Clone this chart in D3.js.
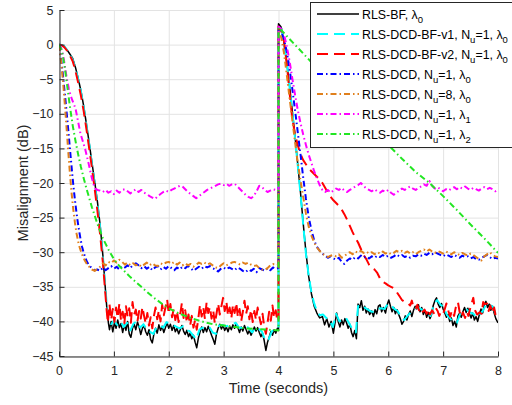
<!DOCTYPE html>
<html>
<head>
<meta charset="utf-8">
<script src="https://cdn.jsdelivr.net/npm/d3@7"></script>
<style>
  body { margin: 0; background: #fff; }
  svg { display: block; font-family: "Liberation Sans", Arial, Helvetica, sans-serif; }
</style>
</head>
<body>
<div id="chart"></div>
<script>
// axis ticks
const xTicks = [0, 1, 2, 3, 4, 5, 6, 7, 8];
const yTicks = [5, 0, -5, -10, -15, -20, -25, -30, -35, -40, -45];

// misalignment curves, [time (s), dB]
const rlsBF = [
  [0,0],[0.05,-0.05],[0.1,-0.3],[0.15,-0.8],[0.2,-1.4],[0.25,-2.0],[0.3,-3.3],[0.35,-4.9],[0.4,-6.7],[0.45,-8.9],
  [0.5,-11.5],[0.55,-14.2],[0.6,-17],[0.65,-19.8],[0.7,-22.7],[0.75,-26.1],[0.8,-30.5],[0.84,-34.8],[0.87,-37.9],[0.9,-40.2],
  [0.92,-41.2],[0.95,-40.0],[0.98,-41.5],[1.01,-40.2],[1.04,-41.0],[1.07,-39.8],[1.10,-40.9],[1.13,-40.3],[1.16,-41.6],[1.19,-40.5],
  [1.22,-41.3],[1.25,-40.0],[1.28,-41.8],[1.31,-42.3],[1.34,-41.0],[1.37,-40.4],[1.40,-41.2],[1.43,-40.1],[1.46,-40.8],[1.49,-41.9],
  [1.52,-41.0],[1.55,-40.6],[1.58,-41.5],[1.61,-42.0],[1.64,-41.2],[1.67,-42.6],[1.70,-43.1],[1.73,-41.8],[1.76,-41.0],[1.79,-41.7],
  [1.82,-40.5],[1.85,-41.3],[1.88,-40.7],[1.91,-41.6],[1.94,-40.9],[1.97,-40.2],[2.00,-41.0],[2.03,-40.4],[2.06,-41.3],[2.09,-40.6],
  [2.12,-41.5],[2.15,-41.0],[2.18,-41.8],[2.21,-41.2],[2.24,-40.6],[2.27,-41.4],[2.30,-41.9],[2.33,-41.3],[2.36,-42.2],[2.39,-41.7],
  [2.42,-42.5],[2.45,-42.0],[2.48,-43.0],[2.51,-43.8],[2.54,-42.4],[2.57,-41.5],[2.60,-40.8],[2.63,-41.6],[2.66,-40.9],[2.69,-41.5],
  [2.72,-40.7],[2.75,-41.3],[2.78,-42.0],[2.81,-42.6],[2.84,-43.3],[2.87,-41.8],[2.90,-41.0],[2.93,-40.4],[2.96,-41.1],[2.99,-40.6],
  [3.02,-41.3],[3.05,-40.8],[3.08,-41.5],[3.11,-40.7],[3.14,-41.2],[3.17,-40.5],[3.20,-41.0],[3.23,-40.3],[3.26,-40.9],[3.29,-41.6],
  [3.32,-40.8],[3.35,-41.4],[3.38,-40.6],[3.41,-41.2],[3.44,-41.8],[3.47,-41.3],[3.50,-42.0],[3.53,-41.5],[3.56,-40.8],[3.59,-41.4],
  [3.62,-40.9],[3.65,-41.6],[3.68,-42.2],[3.71,-41.7],[3.74,-42.8],[3.77,-44.2],[3.80,-43.0],[3.83,-42.3],[3.86,-41.5],[3.89,-42.0],
  [3.92,-41.2],[3.95,-41.7],[3.98,-41.0],[4.0,-41.3],
  [4.0,3.0],[4.05,2.5],[4.1,0.3],[4.15,-2.5],[4.2,-5.8],[4.25,-9.5],[4.3,-13.2],[4.35,-17.2],[4.4,-21.3],[4.45,-25.8],
  [4.5,-30],[4.55,-33.5],[4.6,-36],[4.65,-37.8],[4.7,-38.8],[4.75,-39.5],
  [4.8,-39.3],[4.84,-40.5],[4.88,-39.6],[4.92,-40.8],[4.96,-40.0],[5.0,-41.7],[5.03,-40.2],[5.06,-38.8],[5.09,-40.1],[5.12,-40.8],
  [5.15,-39.8],[5.18,-40.5],[5.21,-39.6],[5.24,-40.2],[5.27,-41.0],[5.30,-40.4],[5.33,-41.6],[5.36,-42.2],[5.39,-41.3],[5.42,-42.5],
  [5.45,-37.5],[5.48,-38.0],[5.51,-37.0],[5.54,-38.4],[5.57,-37.8],[5.60,-38.8],[5.63,-38.2],[5.66,-39.0],[5.70,-38.5],[5.73,-39.3],
  [5.76,-38.3],[5.79,-38.9],[5.82,-37.8],[5.85,-37.6],[5.88,-38.6],[5.91,-38.0],[5.95,-38.8],[5.98,-37.6],[6.01,-36.9],[6.04,-37.8],
  [6.07,-38.6],[6.10,-38.0],[6.13,-38.9],[6.16,-38.3],[6.19,-39.0],[6.22,-39.6],[6.25,-40.4],[6.28,-40.0],[6.31,-39.2],[6.34,-39.8],
  [6.37,-39.0],[6.40,-38.5],[6.43,-39.3],[6.46,-38.4],[6.49,-37.8],[6.52,-38.2],[6.55,-37.6],[6.58,-38.6],[6.61,-38.0],[6.64,-39.0],
  [6.67,-38.4],[6.70,-39.4],[6.73,-38.7],[6.76,-39.6],[6.79,-39.0],[6.82,-37.7],[6.85,-37.0],[6.88,-36.6],[6.91,-37.5],[6.94,-38.0],
  [6.97,-37.4],[7.00,-38.2],[7.03,-38.8],[7.06,-39.4],[7.09,-39.0],[7.12,-40.0],[7.15,-39.5],[7.18,-40.6],[7.21,-40.0],[7.24,-40.8],
  [7.27,-39.2],[7.30,-38.8],[7.33,-39.4],[7.36,-38.6],[7.39,-38.0],[7.42,-38.7],[7.45,-38.1],[7.48,-38.9],[7.51,-39.5],[7.54,-38.8],
  [7.57,-39.8],[7.60,-39.3],[7.63,-40.0],[7.66,-39.0],[7.69,-38.2],[7.72,-38.8],[7.75,-37.6],[7.78,-37.1],[7.81,-38.0],[7.84,-37.5],
  [7.87,-38.4],[7.90,-37.8],[7.93,-38.8],[7.96,-39.6],[8.0,-40.2]
];

const dcdBFv1 = [
  [0,0],[0.05,-0.05],[0.1,-0.3],[0.15,-0.8],[0.2,-1.5],[0.25,-2.2],[0.3,-3.4],[0.35,-5.0],[0.4,-6.8],[0.45,-9.0],
  [0.5,-11.6],[0.55,-14.3],[0.6,-17.2],[0.65,-20.0],[0.7,-23.0],[0.75,-26.4],[0.8,-30.6],[0.84,-34.6],[0.87,-37.5],[0.9,-39.6],
  [0.95,-40.4],[1.0,-39.9],[1.06,-40.5],[1.12,-40.0],[1.18,-40.8],[1.24,-40.2],[1.30,-41.3],[1.36,-40.3],[1.42,-40.0],[1.48,-40.9],
  [1.54,-40.4],[1.60,-41.2],[1.66,-41.5],[1.72,-41.8],[1.78,-40.8],[1.84,-40.6],[1.90,-40.9],[1.96,-40.1],[2.02,-40.3],[2.08,-40.5],
  [2.14,-40.8],[2.20,-41.0],[2.26,-40.7],[2.32,-41.3],[2.38,-41.4],[2.44,-42.0],[2.50,-42.6],[2.56,-41.2],[2.62,-40.9],[2.68,-40.9],
  [2.74,-40.8],[2.80,-41.6],[2.86,-41.8],[2.92,-40.6],[2.98,-40.5],[3.04,-40.7],[3.10,-40.6],[3.16,-40.4],[3.22,-40.2],[3.28,-40.9],
  [3.34,-40.9],[3.40,-40.6],[3.46,-41.0],[3.52,-41.6],[3.58,-40.9],[3.64,-41.1],[3.70,-41.5],[3.76,-42.8],[3.82,-42.6],[3.88,-41.4],
  [3.94,-41.2],[4.0,-40.9],
  [4.0,2.8],[4.05,2.3],[4.1,0.2],[4.15,-2.6],[4.2,-6.0],[4.25,-9.6],[4.3,-13.4],[4.35,-17.4],[4.4,-21.5],[4.45,-26],
  [4.5,-30.2],[4.55,-33.4],[4.6,-35.8],[4.65,-37.4],[4.7,-38.5],[4.75,-39.1],
  [4.81,-39.0],[4.87,-39.5],[4.93,-39.8],[4.99,-40.8],[5.05,-38.9],[5.11,-40.0],[5.17,-39.7],[5.23,-39.5],[5.29,-40.3],[5.35,-41.2],
  [5.41,-41.6],[5.45,-37.8],[5.51,-37.6],[5.57,-38.0],[5.63,-38.3],[5.69,-38.6],[5.75,-38.6],[5.81,-38.2],[5.87,-38.1],[5.93,-38.2],
  [5.99,-37.5],[6.05,-37.6],[6.11,-38.2],[6.17,-38.5],[6.23,-39.3],[6.29,-39.8],[6.35,-39.2],[6.41,-38.7],[6.47,-38.3],[6.53,-37.9],
  [6.59,-38.2],[6.65,-38.5],[6.71,-38.9],[6.77,-39.2],[6.83,-37.6],[6.89,-36.9],[6.95,-37.6],[7.01,-37.9],[7.07,-39.1],[7.13,-39.6],
  [7.19,-40.1],[7.25,-40.2],[7.31,-38.9],[7.37,-38.6],[7.43,-38.3],[7.49,-38.7],[7.55,-38.9],[7.61,-39.4],[7.67,-39.0],[7.73,-38.4],
  [7.79,-37.4],[7.85,-37.6],[7.91,-37.9],[7.97,-39.2],[8.0,-39.6]
];

const dcdBFv2 = [
  [0,0],[0.05,-0.1],[0.1,-0.4],[0.15,-0.9],[0.2,-1.6],[0.25,-2.4],[0.3,-3.8],[0.35,-5.5],[0.4,-7.4],[0.45,-9.6],
  [0.5,-12.2],[0.55,-15],[0.6,-17.8],[0.65,-20.8],[0.7,-24],[0.75,-27.5],[0.8,-31.5],[0.84,-35.5],[0.87,-38.5],[0.89,-40.2],
  [0.92,-37.5],[0.95,-39.8],[0.98,-38.2],[1.01,-40.1],[1.04,-38.0],[1.07,-39.5],[1.10,-37.4],[1.13,-39.9],[1.16,-38.6],[1.19,-40.4],
  [1.22,-37.8],[1.25,-39.3],[1.28,-38.1],[1.31,-40.2],[1.34,-37.2],[1.37,-39.0],[1.40,-38.3],[1.43,-40.0],[1.46,-38.5],[1.49,-39.6],
  [1.52,-37.9],[1.55,-39.2],[1.58,-40.3],[1.61,-38.8],[1.64,-40.6],[1.67,-39.4],[1.70,-41.0],[1.73,-39.2],[1.76,-38.0],[1.79,-39.7],
  [1.82,-38.4],[1.85,-40.0],[1.88,-37.6],[1.91,-39.1],[1.94,-38.0],[1.97,-36.8],[2.00,-38.9],[2.03,-37.5],[2.06,-39.4],[2.09,-38.2],
  [2.12,-39.8],[2.15,-38.5],[2.18,-40.1],[2.21,-38.9],[2.24,-37.3],[2.27,-39.5],[2.30,-38.4],[2.33,-40.2],[2.36,-39.0],[2.39,-40.6],
  [2.42,-39.2],[2.45,-40.9],[2.48,-39.8],[2.51,-41.2],[2.54,-39.5],[2.57,-37.6],[2.60,-39.3],[2.63,-38.0],[2.66,-39.7],[2.69,-37.2],
  [2.72,-38.8],[2.75,-37.9],[2.78,-39.6],[2.81,-38.4],[2.84,-40.3],[2.87,-38.9],[2.90,-37.4],[2.93,-39.0],[2.96,-37.8],[2.99,-36.6],
  [3.02,-38.5],[3.05,-37.1],[3.08,-39.2],[3.11,-38.0],[3.14,-39.6],[3.17,-37.6],[3.20,-38.8],[3.23,-37.3],[3.26,-39.4],[3.29,-38.2],
  [3.32,-40.0],[3.35,-38.6],[3.38,-37.0],[3.41,-38.9],[3.44,-37.8],[3.47,-39.7],[3.50,-38.3],[3.53,-40.1],[3.56,-38.5],[3.59,-39.8],
  [3.62,-38.0],[3.65,-39.3],[3.68,-40.4],[3.71,-38.9],[3.74,-40.8],[3.77,-41.8],[3.80,-40.2],[3.83,-38.6],[3.86,-39.9],[3.89,-37.7],
  [3.92,-39.5],[3.95,-38.4],[3.98,-40.0],[4.0,-39.6],
  [4.0,2.6],[4.05,2.0],[4.1,0.5],[4.15,-2.7],[4.2,-6.8],[4.25,-10.6],[4.3,-12.9],[4.35,-14.5],[4.4,-15.8],[4.45,-16.7],
  [4.5,-17.3],[4.55,-17.9],[4.6,-18.3],[4.65,-18.7],[4.7,-19.1],[4.75,-19.5],[4.8,-20.0],[4.85,-20.7],[4.9,-21.4],[4.95,-22.0],
  [5.0,-22.5],[5.05,-22.9],[5.1,-23.3],[5.15,-23.8],[5.2,-24.5],[5.25,-25.3],[5.3,-26.2],[5.35,-27.1],[5.4,-27.9],[5.45,-28.6],
  [5.5,-29.5],[5.55,-30.4],[5.6,-31.0],[5.65,-31.8],[5.7,-32.3],[5.75,-32.5],[5.8,-33.0],[5.85,-33.8],[5.9,-34.3],[5.95,-34.5],
  [6.0,-34.8],[6.05,-35.0],[6.1,-35.2],[6.15,-35.7],[6.2,-36.3],[6.25,-36.9],[6.3,-37.2],[6.35,-37.3],[6.4,-37.7],[6.43,-37.0],
  [6.46,-38.0],[6.5,-38.2],[6.53,-37.6],[6.56,-38.4],[6.6,-38.0],[6.63,-38.6],[6.66,-38.3],[6.7,-38.9],[6.73,-38.2],[6.76,-39.0],
  [6.8,-38.4],[6.83,-38.8],[6.86,-38.0],[6.9,-38.5],[6.93,-39.2],[6.96,-38.6],[7.0,-38.9],[7.03,-38.2],[7.06,-37.4],[7.1,-38.6],
  [7.13,-39.3],[7.16,-38.4],[7.2,-39.2],[7.23,-38.0],[7.27,-37.2],[7.3,-38.6],[7.33,-39.4],[7.36,-38.7],[7.4,-39.5],[7.43,-38.6],
  [7.46,-39.2],[7.5,-37.9],[7.55,-36.6],[7.58,-38.4],[7.62,-39.0],[7.66,-38.7],[7.7,-38.9],[7.73,-37.2],[7.76,-37.5],[7.8,-37.4],
  [7.83,-38.5],[7.86,-37.7],[7.9,-38.8],[7.93,-38.0],[7.96,-39.3],[8.0,-39.7]
];

const dcdNu1 = [
  [0,0],[0.03,-1.5],[0.06,-3.5],[0.09,-5.8],[0.12,-8.2],[0.15,-10.7],[0.18,-13.3],[0.21,-16.0],[0.24,-18.6],[0.27,-21.0],
  [0.3,-23.1],[0.33,-25.0],[0.36,-26.6],[0.39,-28.0],[0.42,-29.2],[0.45,-30.1],[0.48,-30.8],[0.51,-31.4],[0.55,-31.9],[0.6,-32.3],
  [0.65,-32.6],[0.7,-32.5],[0.75,-32.7],[0.8,-32.2],[0.85,-32.6],[0.9,-32.3],[0.95,-32.0],[1.0,-32.4],[1.05,-32.1],[1.1,-32.5],
  [1.15,-32.0],[1.2,-32.2],[1.25,-31.9],[1.3,-32.3],[1.35,-31.8],[1.4,-31.6],[1.45,-31.9],[1.5,-32.3],[1.55,-32.0],[1.6,-32.4],
  [1.65,-32.1],[1.7,-32.6],[1.75,-32.2],[1.8,-32.0],[1.85,-32.5],[1.9,-32.1],[1.95,-32.4],[2.0,-32.0],[2.05,-32.3],[2.1,-32.6],
  [2.15,-32.2],[2.2,-32.5],[2.25,-32.1],[2.3,-32.3],[2.35,-32.0],[2.4,-32.3],[2.45,-32.7],[2.5,-32.4],[2.55,-32.1],[2.6,-32.4],
  [2.65,-32.0],[2.7,-32.2],[2.75,-32.0],[2.8,-32.3],[2.85,-32.5],[2.9,-32.8],[2.95,-32.4],[3.0,-32.2],[3.05,-32.5],[3.1,-32.2],
  [3.15,-32.4],[3.2,-32.6],[3.25,-32.2],[3.3,-32.4],[3.35,-32.7],[3.4,-32.9],[3.45,-32.5],[3.5,-32.7],[3.55,-32.4],[3.6,-32.9],
  [3.65,-32.3],[3.7,-32.5],[3.75,-32.7],[3.8,-32.3],[3.85,-32.6],[3.9,-32.2],[3.95,-32.4],[4.0,-32.3],
  [4.0,2.3],[4.05,1.8],[4.1,0.8],[4.15,-1.0],[4.2,-3.4],[4.25,-6.3],[4.3,-9.4],[4.35,-12.6],[4.4,-15.8],[4.45,-19.2],
  [4.5,-22.3],[4.55,-24.9],[4.6,-26.8],[4.65,-28.3],[4.7,-29.2],[4.75,-29.8],[4.8,-30.2],[4.85,-30.5],[4.9,-30.8],[4.95,-30.6],
  [5.0,-30.9],[5.05,-31.1],[5.1,-30.8],[5.15,-31.4],[5.2,-31.7],[5.25,-31.2],[5.3,-30.9],[5.35,-31.1],[5.4,-30.7],[5.45,-30.9],
  [5.5,-30.5],[5.55,-30.8],[5.6,-30.6],[5.65,-30.9],[5.7,-30.6],[5.75,-30.8],[5.8,-30.5],[5.85,-30.7],[5.9,-30.4],[5.95,-30.7],
  [6.0,-30.5],[6.05,-30.8],[6.1,-30.6],[6.15,-30.3],[6.2,-30.6],[6.25,-30.4],[6.3,-30.7],[6.35,-30.5],[6.4,-30.8],[6.45,-30.5],
  [6.5,-30.6],[6.55,-30.3],[6.6,-30.5],[6.65,-30.2],[6.7,-30.4],[6.75,-30.1],[6.8,-30.3],[6.85,-30.0],[6.9,-30.2],[6.95,-30.4],
  [7.0,-30.6],[7.05,-30.3],[7.1,-30.5],[7.15,-30.7],[7.2,-30.4],[7.25,-30.6],[7.3,-30.8],[7.35,-30.5],[7.4,-30.7],[7.45,-30.6],
  [7.5,-30.9],[7.55,-30.7],[7.6,-31.0],[7.65,-31.1],[7.7,-30.8],[7.75,-30.6],[7.8,-30.4],[7.85,-30.7],[7.9,-31.0],[7.95,-30.8],
  [8.0,-30.9]
];

const dcdNu8 = [
  [0,0],[0.02,-1.3],[0.05,-3.3],[0.08,-6.0],[0.11,-9.0],[0.14,-12.3],[0.17,-15.6],[0.2,-18.7],[0.23,-21.5],[0.26,-23.8],
  [0.29,-25.7],[0.32,-27.3],[0.35,-28.5],[0.38,-29.4],[0.41,-30.1],[0.44,-30.7],[0.47,-31.2],[0.5,-31.6],[0.55,-32.1],[0.6,-32.5],
  [0.65,-32.7],[0.7,-32.4],[0.75,-32.1],[0.8,-31.6],[0.85,-31.9],[0.9,-31.4],[0.95,-31.6],[1.0,-31.2],[1.05,-31.5],[1.1,-31.1],
  [1.15,-31.4],[1.2,-31.8],[1.25,-31.5],[1.3,-31.9],[1.35,-31.6],[1.4,-31.9],[1.45,-31.7],[1.5,-32.1],[1.55,-31.8],[1.6,-31.5],
  [1.65,-31.9],[1.7,-31.6],[1.75,-31.9],[1.8,-32.0],[1.85,-31.6],[1.9,-31.8],[1.95,-31.5],[2.0,-31.4],[2.05,-31.7],[2.1,-31.4],
  [2.15,-31.8],[2.2,-31.5],[2.25,-31.9],[2.3,-31.6],[2.35,-31.9],[2.4,-31.7],[2.45,-32.1],[2.5,-31.8],[2.55,-31.5],[2.6,-31.7],
  [2.65,-31.5],[2.7,-31.8],[2.75,-31.6],[2.8,-31.9],[2.85,-32.2],[2.9,-32.3],[2.95,-31.9],[3.0,-31.6],[3.05,-31.9],[3.1,-31.7],
  [3.15,-31.5],[3.2,-31.4],[3.25,-31.6],[3.3,-31.8],[3.35,-31.5],[3.4,-31.7],[3.45,-31.5],[3.5,-31.8],[3.55,-32.0],[3.6,-31.9],
  [3.65,-32.3],[3.7,-32.5],[3.75,-32.6],[3.8,-32.3],[3.85,-31.9],[3.9,-31.7],[3.95,-31.9],[4.0,-31.8],
  [4.0,2.2],[4.05,1.0],[4.1,-1.2],[4.15,-4.3],[4.2,-7.6],[4.25,-10.8],[4.3,-14.0],[4.35,-17.0],[4.4,-19.6],[4.45,-22.0],
  [4.5,-24.4],[4.55,-26.3],[4.6,-27.6],[4.65,-28.6],[4.7,-29.3],[4.75,-29.8],[4.8,-30.2],[4.85,-30.5],[4.9,-30.7],[4.95,-30.5],
  [5.0,-30.4],[5.05,-30.6],[5.1,-30.3],[5.15,-30.8],[5.2,-30.6],[5.25,-30.2],[5.3,-30.0],[5.35,-30.3],[5.4,-29.9],[5.45,-30.1],
  [5.5,-29.8],[5.55,-30.1],[5.6,-29.9],[5.65,-30.2],[5.7,-30.0],[5.75,-30.3],[5.8,-30.0],[5.85,-30.2],[5.9,-29.9],[5.95,-30.2],
  [6.0,-30.0],[6.05,-30.3],[6.1,-30.1],[6.15,-29.8],[6.2,-30.0],[6.25,-29.8],[6.3,-30.1],[6.35,-29.9],[6.4,-30.2],[6.45,-30.0],
  [6.5,-30.3],[6.55,-30.0],[6.6,-29.8],[6.65,-29.6],[6.7,-29.9],[6.75,-29.6],[6.8,-29.9],[6.85,-30.1],[6.9,-29.8],[6.95,-30.0],
  [7.0,-30.2],[7.05,-29.9],[7.1,-30.1],[7.15,-30.3],[7.2,-30.0],[7.25,-30.2],[7.3,-30.4],[7.35,-30.1],[7.4,-30.3],[7.45,-30.5],
  [7.5,-30.2],[7.55,-30.4],[7.6,-30.7],[7.65,-31.0],[7.7,-31.2],[7.75,-30.6],[7.8,-30.3],[7.85,-30.0],[7.9,-30.4],[7.95,-30.6],
  [8.0,-30.7]
];

const dcdLam1 = [
  [0,0],[0.03,-0.3],[0.06,-1.0],[0.09,-2.2],[0.12,-3.8],[0.15,-5.2],[0.18,-6.4],[0.21,-7.3],[0.24,-8.0],[0.27,-8.6],
  [0.3,-9.2],[0.33,-10.4],[0.36,-11.6],[0.39,-12.8],[0.42,-13.6],[0.45,-14.4],[0.48,-15.2],[0.51,-16.2],[0.54,-17.2],[0.57,-18.3],
  [0.6,-19.3],[0.63,-20.2],[0.66,-20.8],[0.7,-21.0],[0.75,-21.1],[0.8,-21.3],[0.85,-21.0],[0.9,-21.4],[0.95,-21.2],[1.0,-21.6],
  [1.05,-21.1],[1.1,-21.4],[1.15,-21.0],[1.2,-20.9],[1.25,-21.2],[1.3,-21.5],[1.35,-21.2],[1.4,-20.9],[1.45,-21.3],[1.5,-21.0],
  [1.55,-21.4],[1.6,-21.6],[1.65,-21.9],[1.7,-22.1],[1.75,-22.3],[1.8,-21.9],[1.85,-21.6],[1.9,-21.3],[1.95,-21.1],[2.0,-21.3],
  [2.05,-21.0],[2.1,-20.8],[2.15,-20.6],[2.2,-20.4],[2.25,-20.5],[2.3,-20.9],[2.35,-21.3],[2.4,-21.6],[2.45,-21.9],[2.5,-22.2],
  [2.55,-21.9],[2.6,-21.6],[2.65,-21.3],[2.7,-21.0],[2.75,-20.8],[2.8,-20.6],[2.85,-20.4],[2.9,-20.2],[2.95,-20.1],[3.0,-20.3],
  [3.05,-20.1],[3.1,-20.4],[3.15,-20.2],[3.2,-20.1],[3.25,-20.5],[3.3,-20.9],[3.35,-21.3],[3.4,-21.7],[3.45,-22.0],[3.5,-22.2],
  [3.55,-21.9],[3.6,-21.2],[3.65,-20.4],[3.7,-20.6],[3.75,-21.0],[3.8,-21.3],[3.85,-21.1],[3.9,-20.9],[3.95,-21.0],[4.0,-21.0],
  [4.0,2.6],[4.05,2.3],[4.1,1.5],[4.15,-0.2],[4.2,-2.3],[4.25,-4.8],[4.3,-7.2],[4.35,-9.4],[4.4,-11.3],[4.45,-13.0],
  [4.5,-14.5],[4.55,-15.9],[4.6,-17.1],[4.65,-18.3],[4.7,-19.3],[4.75,-20.3],[4.8,-21.0],[4.85,-21.3],[4.9,-21.0],[4.95,-21.4],
  [5.0,-21.1],[5.05,-20.8],[5.1,-21.0],[5.15,-20.7],[5.2,-21.1],[5.25,-21.3],[5.3,-21.0],[5.35,-20.8],[5.4,-20.5],[5.45,-20.3],
  [5.5,-20.0],[5.55,-20.4],[5.6,-20.8],[5.65,-21.0],[5.7,-21.2],[5.75,-20.9],[5.8,-21.2],[5.85,-21.4],[5.9,-21.1],[5.95,-21.3],
  [6.0,-21.0],[6.05,-21.4],[6.1,-21.7],[6.15,-21.4],[6.2,-21.1],[6.25,-20.8],[6.3,-21.0],[6.35,-20.7],[6.4,-20.5],[6.45,-20.8],
  [6.5,-21.0],[6.55,-20.7],[6.6,-20.5],[6.65,-20.2],[6.7,-20.4],[6.75,-19.7],[6.8,-20.4],[6.85,-20.8],[6.9,-20.6],[6.95,-20.9],
  [7.0,-21.2],[7.05,-20.9],[7.1,-21.1],[7.15,-20.8],[7.2,-20.6],[7.25,-20.9],[7.3,-20.6],[7.35,-20.8],[7.4,-20.5],[7.45,-20.8],
  [7.5,-21.0],[7.55,-20.7],[7.6,-20.9],[7.65,-21.1],[7.7,-20.8],[7.75,-20.6],[7.8,-20.9],[7.85,-20.7],[7.9,-20.9],[7.95,-21.2],
  [8.0,-21.0]
];

const dcdLam2 = [
  [0,0],[0.05,-0.8],[0.1,-3.0],[0.15,-6.0],[0.2,-9.0],[0.25,-11.7],[0.3,-13.9],[0.35,-15.9],[0.4,-17.7],[0.45,-19.3],
  [0.5,-20.8],[0.6,-23.5],[0.7,-25.9],[0.8,-28.0],[0.9,-29.6],[1.0,-31.0],[1.1,-32.0],[1.2,-32.8],[1.3,-33.6],[1.4,-34.3],
  [1.5,-35.0],[1.6,-35.7],[1.7,-36.4],[1.8,-37.0],[1.9,-37.6],[2.0,-38.1],[2.2,-38.9],[2.4,-39.5],[2.6,-40.0],[2.8,-40.4],
  [3.0,-40.6],[3.2,-40.8],[3.4,-41.0],[3.6,-41.1],[3.8,-41.2],[4.0,-41.3],
  [4.0,2.5],[4.25,0.4],[4.5,-1.7],[4.75,-3.8],[5.0,-5.9],[5.25,-8.0],[5.5,-10.2],[5.75,-12.4],[6.0,-14.5],[6.25,-16.5],
  [6.5,-18.4],[6.75,-20.0],[7.0,-21.9],[7.25,-23.9],[7.5,-26.0],[7.75,-28.0],[8.0,-30.1]
];

const legendLabels = [
  "RLS-BF, λ_0",
  "RLS-DCD-BF-v1, N_u=1, λ_0",
  "RLS-DCD-BF-v2, N_u=1, λ_0",
  "RLS-DCD, N_u=1, λ_0",
  "RLS-DCD, N_u=8, λ_0",
  "RLS-DCD, N_u=1, λ_1",
  "RLS-DCD, N_u=1, λ_2"
];

// line styles, in plotting order
const dashLine = "11,6";
const dashDot = "6,3,1.5,3";
const series = [
  { data: rlsBF,   color: "#000000", dash: null,     width: 1.5 },
  { data: dcdBFv1, color: "#00ffff", dash: dashLine, width: 2 },
  { data: dcdBFv2, color: "#ff0000", dash: dashLine, width: 2 },
  { data: dcdNu1,  color: "#0000ff", dash: dashDot,  width: 2 },
  { data: dcdNu8,  color: "#e0801c", dash: dashDot,  width: 2 },
  { data: dcdLam1, color: "#ff00ff", dash: dashDot,  width: 2 },
  { data: dcdLam2, color: "#22e622", dash: dashDot,  width: 2 }
];

const width = 512, height = 405;
const plotL = 59, plotR = 498, plotT = 10, plotB = 356;
const ink = "#262626";

const svg = d3.select("#chart").append("svg")
  .attr("width", width)
  .attr("height", height);

const x = d3.scaleLinear().domain([0, 8]).range([plotL, plotR]);
const y = d3.scaleLinear().domain([-45, 5]).range([plotB, plotT]);

// grid
const grid = svg.append("g").attr("stroke", "#e3e3e3").attr("stroke-width", 1);
grid.selectAll(".gx").data(xTicks).join("line")
  .attr("x1", d => x(d) + 0.5).attr("x2", d => x(d) + 0.5)
  .attr("y1", plotT).attr("y2", plotB);
grid.selectAll(".gy").data(yTicks).join("line")
  .attr("x1", plotL).attr("x2", plotR)
  .attr("y1", d => y(d) + 0.5).attr("y2", d => y(d) + 0.5);

// curves
svg.append("clipPath").attr("id", "plotArea")
  .append("rect").attr("x", plotL).attr("y", plotT - 2).attr("width", plotR - plotL).attr("height", plotB - plotT + 2);

const line = d3.line().x(d => x(d[0])).y(d => y(d[1]));

svg.append("g").attr("clip-path", "url(#plotArea)")
  .selectAll("path")
  .data(series)
  .join("path")
  .attr("d", d => line(d.data))
  .attr("fill", "none")
  .attr("stroke", d => d.color)
  .attr("stroke-width", d => d.width)
  .attr("stroke-dasharray", d => d.dash)
  .attr("stroke-linejoin", "round");

// axes
const xAxis = svg.append("g")
  .attr("transform", `translate(0,${plotB + 0.5})`)
  .call(d3.axisBottom(x).tickValues(xTicks).tickSizeInner(-5).tickSizeOuter(0).tickPadding(10));
const yAxis = svg.append("g")
  .attr("transform", `translate(${plotL + 0.5},0)`)
  .call(d3.axisLeft(y).tickValues(yTicks).tickSizeInner(-5).tickSizeOuter(0).tickPadding(6));

[xAxis, yAxis].forEach(a => {
  a.select(".domain").attr("stroke", ink);
  a.selectAll(".tick line").attr("stroke", ink);
  a.selectAll(".tick text")
    .attr("fill", ink)
    .style("font-size", "12.5px")
    .style("font-family", "'Liberation Sans', Arial, sans-serif");
});

// axis labels
svg.append("text")
  .attr("x", (plotL + plotR) / 2)
  .attr("y", 393)
  .attr("text-anchor", "middle")
  .attr("fill", ink)
  .style("font-size", "14.5px")
  .text("Time (seconds)");

svg.append("text")
  .attr("transform", "translate(28,183) rotate(-90)")
  .attr("text-anchor", "middle")
  .attr("fill", ink)
  .style("font-size", "14.5px")
  .text("Misalignment (dB)");

// legend
const legend = svg.append("g");
legend.append("rect")
  .attr("x", 310.5).attr("y", 2.5)
  .attr("width", 202).attr("height", 145)
  .attr("fill", "#fff")
  .attr("stroke", ink)
  .attr("stroke-width", 1);

const rows = legend.selectAll(".row")
  .data(series)
  .join("g")
  .attr("transform", (d, i) => `translate(0,${14 + i * 20})`);

rows.append("line")
  .attr("x1", 317).attr("x2", 359)
  .attr("stroke", d => d.color)
  .attr("stroke-width", d => d.width)
  .attr("stroke-dasharray", d => d.dash);

rows.append("text")
  .attr("x", 362)
  .attr("y", 4.5)
  .attr("fill", "#000")
  .style("font-size", "12.4px")
  .each(function(d, i) {
    const parts = legendLabels[i].split(/_(.)/);
    const t = d3.select(this);
    parts.forEach((p, k) => {
      if (!p) return;
      if (k % 2 === 1) {
        t.append("tspan").attr("dy", 4).style("font-size", "9.5px").text(p);
      } else {
        t.append("tspan").attr("dy", k > 0 ? -4 : 0).text(p);
      }
    });
  });
</script>
</body>
</html>
